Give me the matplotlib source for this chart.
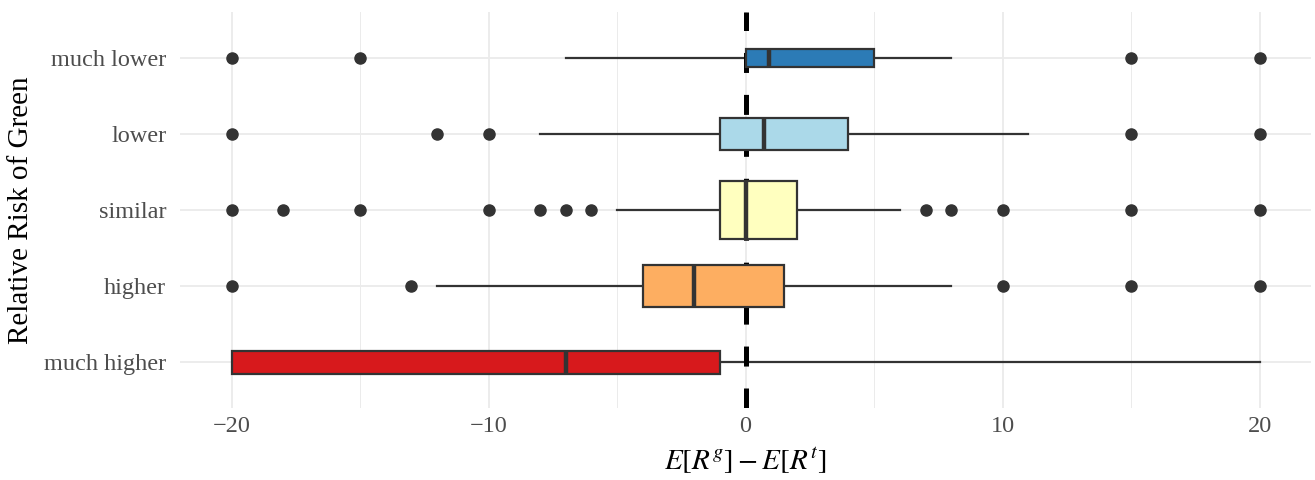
import numpy as np
import matplotlib.pyplot as plt

plt.rcParams['font.family'] = ['Liberation Serif', 'DejaVu Serif']
plt.rcParams['mathtext.fontset'] = 'stix'
plt.rcParams['lines.scale_dashes'] = False

# groups, bottom to top
categories = ["much higher", "higher", "similar", "lower", "much lower"]
colors = ["#d7191c", "#fdae61", "#ffffbf", "#abd9e9", "#2c7bb6"]

# box stats
q1 = [-20, -4, -1, -1, 0]
med = [-7, -2, 0, 0.7, 0.9]
q3 = [-1, 1.5, 2, 4, 5]
whis_lo = [-20, -12, -5, -8, -7]
whis_hi = [20, 8, 6, 11, 8]
outliers = [
    [],
    [-20, -13, 10, 15, 20],
    [-20, -18, -15, -10, -8, -7, -6, 7, 8, 10, 15, 20],
    [-20, -12, -10, 15, 20],
    [-20, -15, 15, 20],
]
# approximate group sizes (box width ~ sqrt(n))
n_obs = [48, 163, 300, 95, 30]

stats = []
for i in range(len(categories)):
    stats.append(dict(q1=q1[i], med=med[i], q3=q3[i],
                      whislo=whis_lo[i], whishi=whis_hi[i],
                      fliers=outliers[i], label=categories[i]))

widths = 0.75 * np.sqrt(np.array(n_obs) / max(n_obs))
pos = np.arange(1, len(categories) + 1)

fig, ax = plt.subplots(figsize=(13.15, 4.8), dpi=100)
fig.subplots_adjust(left=0.137, right=0.997, top=0.975, bottom=0.15)

dark = "#333333"
bp = ax.bxp(stats, positions=pos, widths=widths, orientation='horizontal',
            patch_artist=True, showcaps=False,
            boxprops=dict(edgecolor=dark, linewidth=1.6),
            whiskerprops=dict(color=dark, linewidth=1.6),
            medianprops=dict(color=dark, linewidth=3.2),
            flierprops=dict(marker='o', markerfacecolor=dark,
                            markeredgecolor=dark, markersize=8))
for patch, c in zip(bp['boxes'], colors):
    patch.set_facecolor(c)
    patch.set_zorder(4)
for m in bp['medians']:
    m.set_zorder(5)
for w in bp['whiskers']:
    w.set_zorder(2)

ax.axvline(0, color='black', linewidth=3.6, linestyle=(0, (14.4, 15.8)),
           zorder=3)

ax.set_xlim(-22, 22)
ax.set_ylim(0.4, 5.6)
ax.set_xticks([-20, -10, 0, 10, 20])
ax.set_xticks([-15, -5, 5, 15], minor=True)
ax.set_xticklabels(['\u221220', '\u221210', '0', '10', '20'])
ax.set_yticks(pos)
ax.set_yticklabels(categories)

ax.grid(True, which='major', color='#EBEBEB', linewidth=1.3, zorder=0)
ax.grid(True, which='minor', axis='x', color='#EBEBEB', linewidth=0.7, zorder=0)
ax.set_axisbelow(True)
for s in ax.spines.values():
    s.set_visible(False)
ax.tick_params(which='both', length=0, labelsize=17.5, labelcolor='#4D4D4D')
ax.tick_params(axis='y', pad=10)
ax.tick_params(axis='x', pad=6)

ax.set_xlabel(r'$E[R^g] - E[R^t]$', fontsize=21, labelpad=6)
ax.set_ylabel('Relative Risk of Green', fontsize=21, labelpad=7)

fig.savefig('out.png', dpi=100)
